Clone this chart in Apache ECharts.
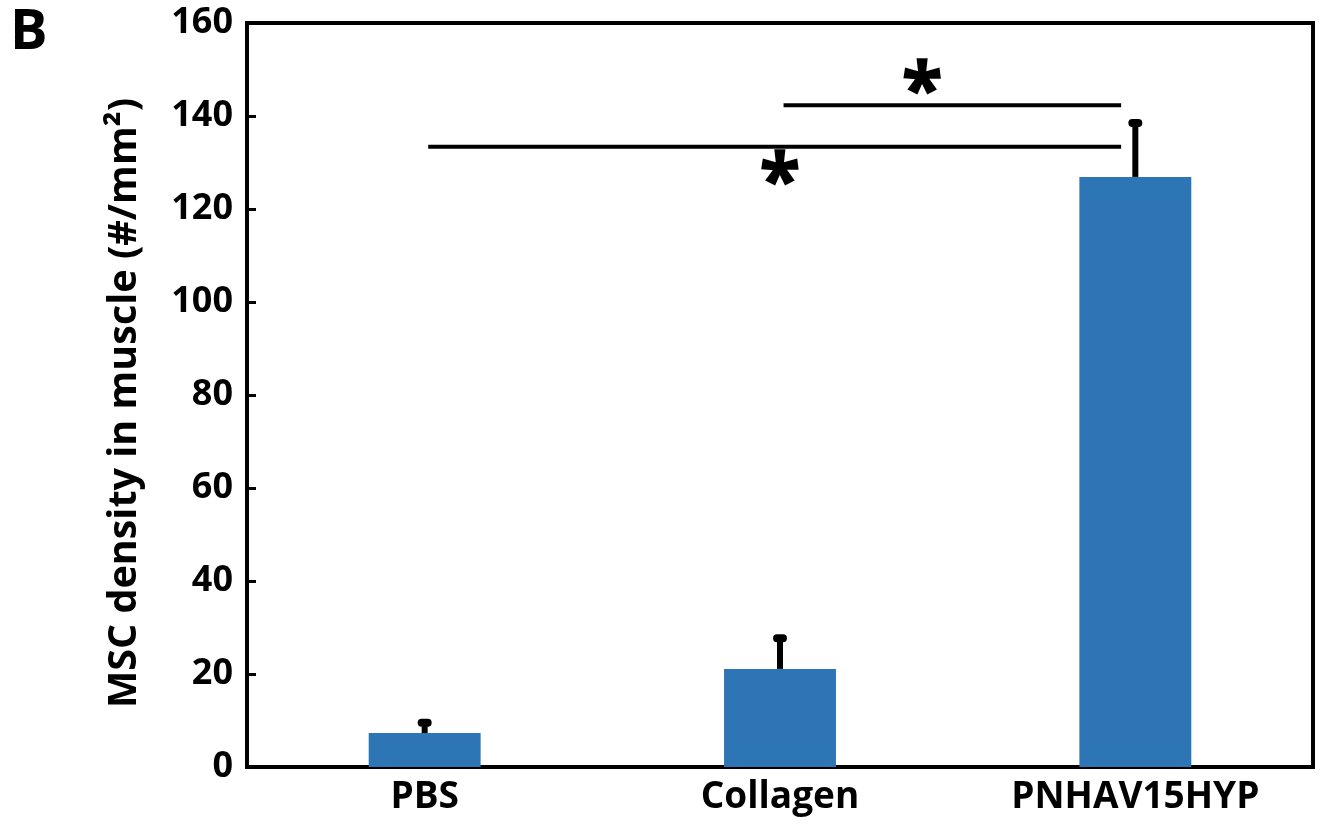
<!DOCTYPE html>
<html><head><meta charset="utf-8">
<script src="https://cdn.jsdelivr.net/npm/echarts@6/dist/echarts.min.js"></script>
<style>html,body{margin:0;padding:0;background:#fff}#c{width:1322px;height:836px}</style>
</head><body><div id="c"></div>
<script>
const categories = ['PBS', 'Collagen', 'PNHAV15HYP'];
const means = [7.3, 21.1, 126.9];
const errors = [2.2, 6.6, 11.6];
const yTicks = [0, 20, 40, 60, 80, 100, 120, 140, 160];
// significance brackets: [xStart, xEnd, y] in category index units
const sigLines = [[0.01, 1.96, 133.4], [1.01, 1.96, 142.3]];
// asterisk positions: [x, y]
const stars = [[1.0, 128.4], [1.40, 148.0]];

const FONT = '"Open Sans", sans-serif';
const chart = echarts.init(document.getElementById('c'));
const grid = {left: 247, right: 9, top: 23, bottom: 69, show: true, borderColor: '#000', borderWidth: 4};

const series = [
  {type: 'bar', data: means, barWidth: '31.5%', itemStyle: {color: '#2E75B6'}, z: 2},
  {type: 'custom', xAxisIndex: 0, z: 3,
   encode: {x: 0, y: [1, 2]},
   data: means.map((m, i) => [i, m, m + errors[i]]),
   renderItem: function (params, api) {
     const lo = api.coord([api.value(0), api.value(1)]);
     const hi = api.coord([api.value(0), api.value(2)]);
     return {type: 'group', children: [
       {type: 'line', shape: {x1: lo[0], y1: lo[1], x2: hi[0], y2: hi[1]}, style: {stroke: '#000', lineWidth: 6}},
       {type: 'line', shape: {x1: hi[0] - 3, y1: hi[1], x2: hi[0] + 3, y2: hi[1]}, style: {stroke: '#000', lineWidth: 8, lineCap: 'round'}}
     ]};
   }}
];
sigLines.forEach(s => series.push({
  type: 'line', xAxisIndex: 1, symbol: 'none', silent: true, z: 4,
  data: [[s[0], s[2]], [s[1], s[2]]], lineStyle: {color: '#000', width: 4}
}));
series.push({
  type: 'scatter', xAxisIndex: 1, symbolSize: 0, silent: true, z: 5,
  data: stars,
  itemStyle: {opacity: 1, color: '#000'},
  label: {show: true, formatter: '*', position: 'inside', color: '#000', opacity: 1, textBorderColor: '#000', textBorderWidth: 1.5,
    fontSize: 74, fontWeight: 'bold', fontFamily: FONT, offset: [0, 15]}
});

chart.setOption({
  animation: false,
  grid: grid,
  graphic: [{type: 'text', left: 10, top: 5, style: {text: 'B', font: 'bold 56px ' + FONT, fill: '#000'}}],
  xAxis: [
    {type: 'category', data: categories, axisLine: {onZero: false, lineStyle: {color: '#000', width: 4}}, axisTick: {show: false},
     axisLabel: {color: '#000', fontSize: 37, fontWeight: 'bold', fontFamily: FONT, margin: 12}},
    {type: 'value', min: -0.5, max: 2.5, show: false}
  ],
  yAxis: {
    type: 'value', min: 0, max: 160, interval: 20,
    name: 'MSC density in muscle (#/mm²)', nameLocation: 'middle', nameGap: 102,
    nameTextStyle: {color: '#000', fontSize: 39.5, fontWeight: 'bold', fontFamily: FONT, padding: [0, 16, 0, 0]},
    axisLine: {show: true, onZero: false, lineStyle: {color: '#000', width: 4}},
    axisTick: {show: true, inside: true, length: 9, lineStyle: {color: '#000', width: 3}},
    splitLine: {show: false},
    axisLabel: {color: '#000', fontSize: 36, fontWeight: 'bold', fontFamily: FONT, margin: 14,
      formatter: v => yTicks.includes(v) ? String(v) : ''}
  },
  series: series
});
</script></body></html>
